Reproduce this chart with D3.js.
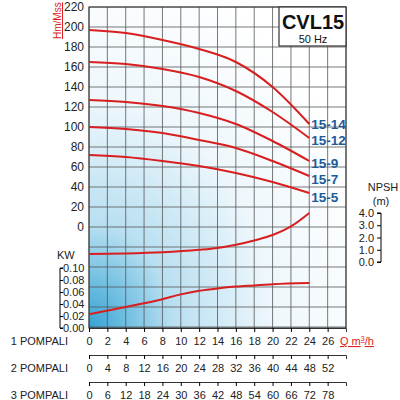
<!DOCTYPE html>
<html><head><meta charset="utf-8">
<script src="https://cdn.jsdelivr.net/npm/d3@7"></script>
<style>body{margin:0;background:#fff}text{font-family:"Liberation Sans",Arial,sans-serif}</style>
</head><body>
<script>
const qTicks = d3.range(0, 28, 2)
const q2Ticks = [0, 4, 8, 12, 16, 20, 24, 28, 32, 36, 40, 44, 48, 52]
const q3Ticks = [0, 6, 12, 18, 24, 30, 36, 42, 48, 54, 60, 66, 72, 78]
const headTicks = d3.range(0, 221, 20)
const kwTicks = [0, 0.02, 0.04, 0.06, 0.08, 0.10]
const npshTicks = [0, 1, 2, 3, 4]
const qPts = [0, 4, 8, 12, 16, 20, 24]
const models = ["15-14", "15-12", "15-9", "15-7", "15-5"]
const heads = [
    [197, 194, 187, 178, 165, 140, 103],
    [165, 163, 158, 150, 136, 115, 89],
    [127, 125, 121, 114, 103, 86, 66],
    [100, 98, 94, 87, 79, 66, 51],
    [72, 70, 66, 61, 54, 45, 34]
]
const npshQ = [0, 4, 8, 12, 14, 16, 18, 20, 22, 24]
const npshVal = [0.65, 0.7, 0.8, 1.0, 1.15, 1.4, 1.75, 2.2, 2.9, 4.0]
const kwQ = [0, 4, 8, 10, 12, 14, 16, 18, 20, 24]
const kwVal = [0.023, 0.035, 0.048, 0.056, 0.062, 0.066, 0.069, 0.071, 0.073, 0.075]

const svg = d3.select("body").append("svg").attr("width", 400).attr("height", 400)
const defs = svg.append("defs")
const grad = defs.append("radialGradient").attr("id", "bg")
    .attr("cx", 0).attr("cy", 1).attr("r", 1.15).attr("fx", 0).attr("fy", 1)
grad.append("stop").attr("offset", "0%").attr("stop-color", "#35a3d4")
grad.append("stop").attr("offset", "28%").attr("stop-color", "#b8dff1")
grad.append("stop").attr("offset", "62%").attr("stop-color", "#eef7fc")
grad.append("stop").attr("offset", "100%").attr("stop-color", "#ffffff")

const pLeft = 89, pRight = 346, pTop = 7, pBottom = 328
const x = d3.scaleLinear().domain([0, 28]).range([pLeft, pRight])
const y = d3.scaleLinear().domain([0, 220]).range([227, 7])
const yKw = d3.scaleLinear().domain([0, 0.1]).range([328, 268])
const yN = d3.scaleLinear().domain([0, 4]).range([262, 213])

svg.append("rect").attr("x", pLeft).attr("y", pTop).attr("width", pRight - pLeft)
    .attr("height", pBottom - pTop).attr("fill", "url(#bg)")

// grid
const grid = svg.append("g").attr("stroke", "#555").attr("stroke-width", 0.8)
d3.range(0, 29, 2).forEach(v => grid.append("line").attr("x1", x(v)).attr("x2", x(v)).attr("y1", pTop).attr("y2", pBottom))
d3.range(pTop, pBottom + 1, 20).forEach(v => grid.append("line").attr("x1", pLeft).attr("x2", pRight).attr("y1", v).attr("y2", v))
svg.append("rect").attr("x", pLeft).attr("y", pTop).attr("width", pRight - pLeft)
    .attr("height", pBottom - pTop).attr("fill", "none").attr("stroke", "#333").attr("stroke-width", 1)

// head axis labels
svg.append("g").selectAll("text").data(headTicks).join("text")
    .attr("x", pLeft - 5).attr("y", d => y(d) + 4).attr("text-anchor", "end")
    .attr("font-size", 12).attr("fill", "#222").text(d => d)
svg.append("text").attr("transform", "translate(61,39) rotate(-90)")
    .attr("font-size", 10).attr("fill", "#d22").attr("text-decoration", "underline").text("Hm/Mss")

// KW axis
const kwAxis = d3.axisLeft(yKw).tickValues(kwTicks).tickFormat(d3.format(".2f")).tickSize(4)
const gk = svg.append("g").attr("transform", "translate(60,0)").call(kwAxis)
gk.selectAll("text").attr("font-size", 11).attr("fill", "#222").attr("x", 0).attr("text-anchor", "start").attr("dx", 3)
gk.selectAll(".tick line").attr("x2", 3)
gk.select(".domain").attr("d", "M3,268H0V328H3")
svg.append("text").attr("x", 57).attr("y", 259).attr("font-size", 11).attr("fill", "#222").text("KW")

// NPSH axis
const nAxis = d3.axisRight(yN).tickValues(npshTicks).tickFormat(d3.format(".1f")).tickSize(4)
const gn = svg.append("g").attr("transform", "translate(381,0)").call(nAxis)
gn.selectAll(".tick line").attr("x2", -4)
gn.selectAll("text").attr("font-size", 11).attr("fill", "#222").attr("x", -7).attr("text-anchor", "end")
gn.select(".domain").attr("d", "M-4,213H0V262H-4")
svg.append("text").attr("x", 383).attr("y", 191).attr("text-anchor", "middle").attr("font-size", 11).attr("fill", "#222").text("NPSH")
svg.append("text").attr("x", 381).attr("y", 205).attr("text-anchor", "middle").attr("font-size", 11).attr("fill", "#222").text("(m)")

// curves
const line = d3.line().curve(d3.curveMonotoneX)
const curves = svg.append("g").attr("fill", "none").attr("stroke", "#d81e1e").attr("stroke-width", 2)
heads.forEach(h => curves.append("path").attr("d", line(qPts.map((q, i) => [x(q), y(h[i])]))))
curves.append("path").attr("d", line(npshQ.map((q, i) => [x(q), yN(npshVal[i])])))
curves.append("path").attr("d", line(kwQ.map((q, i) => [x(q), yKw(kwVal[i])])))

// model labels
const labY = [124, 140, 163, 179, 197]
svg.append("g").selectAll("text").data(models).join("text")
    .attr("x", x(24) + 2).attr("y", (d, i) => labY[i] + 5)
    .attr("font-size", 13.5).attr("font-weight", "bold").attr("fill", "#1c5a99").text(d => d)

// title box
svg.append("rect").attr("x", 279).attr("y", 7).attr("width", 67).attr("height", 39)
    .attr("fill", "#fff").attr("stroke", "#333").attr("stroke-width", 1.2)
svg.append("text").attr("x", 313).attr("y", 29).attr("text-anchor", "middle")
    .attr("font-size", 20).attr("font-weight", "bold").attr("fill", "#111").text("CVL15")
svg.append("text").attr("x", 313).attr("y", 43).attr("text-anchor", "middle")
    .attr("font-size", 11).attr("fill", "#111").text("50 Hz")

// pompali rows
const rowLabel = ["1 POMPALI", "2 POMPALI", "3 POMPALI"]
const rowTicks = [qTicks, q2Ticks, q3Ticks]
const rowDom = [[0, 28], [0, 56], [0, 84]]
const rowAxisY = [328, 355, 382]
rowTicks.forEach((t, r) => {
    const s = d3.scaleLinear().domain(rowDom[r]).range([pLeft, pRight])
    const g = svg.append("g").attr("transform", `translate(0,${rowAxisY[r]})`)
        .call(d3.axisBottom(s).tickValues(t).tickSize(4).tickSizeOuter(4).tickFormat(d => d))
    g.selectAll("text").attr("font-size", 11).attr("fill", "#222").attr("dy", "0.9em")
    g.select(".domain").attr("stroke", "#333")
    svg.append("text").attr("x", 68).attr("y", rowAxisY[r] + 17).attr("text-anchor", "end")
        .attr("font-size", 11).attr("fill", "#222").text(rowLabel[r])
})
svg.append("text").attr("x", 340).attr("y", 345).attr("font-size", 11).attr("fill", "#d22")
    .attr("text-decoration", "underline").html('Q m<tspan font-size="7" dy="-4">3</tspan><tspan dy="4">/h</tspan>')
</script>
</body></html>
